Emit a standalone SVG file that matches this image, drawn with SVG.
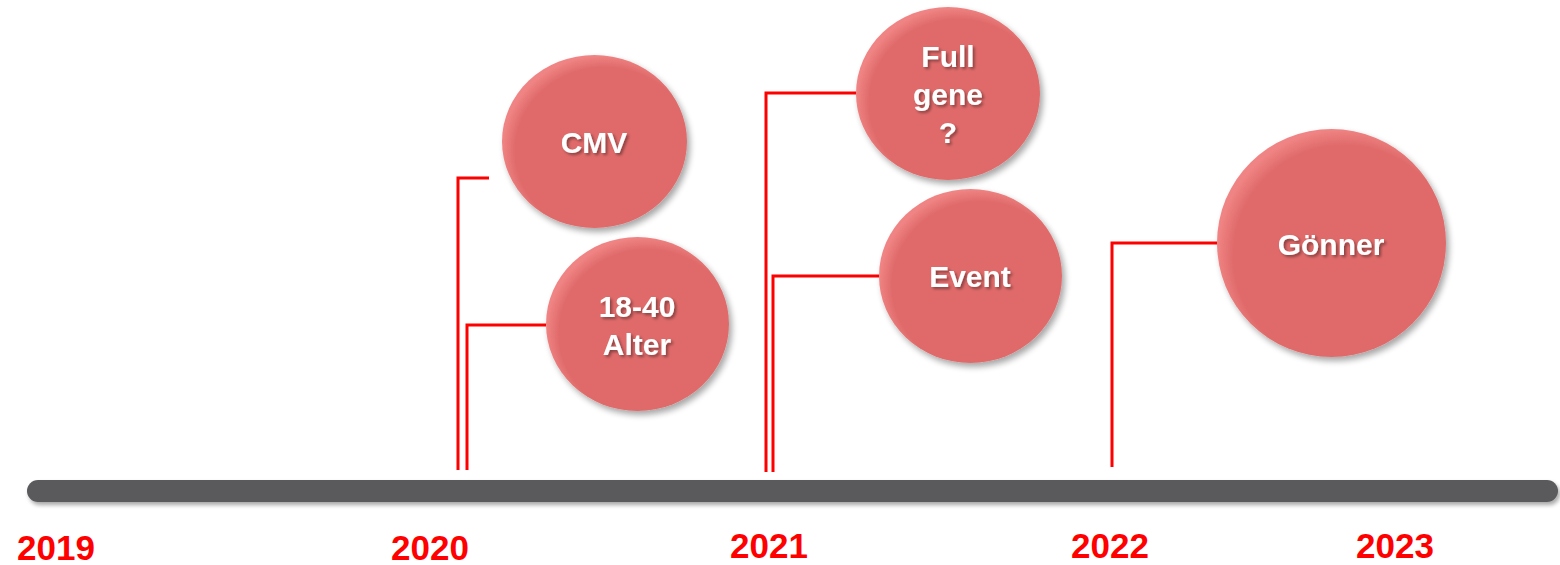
<svg xmlns="http://www.w3.org/2000/svg" width="1560" height="565" viewBox="0 0 1560 565">
<style>
.node ellipse{fill:url(#ball);filter:url(#sh);}
.lbl{font-family:"Liberation Sans",Arial,sans-serif;font-weight:bold;font-size:30px;fill:#ffffff;text-anchor:middle;filter:url(#tsh);}
.yr{font-family:"Liberation Sans",Arial,sans-serif;font-weight:bold;font-size:35px;fill:#ff0000;text-anchor:middle;}
.con path{fill:none;stroke:#ff0000;stroke-width:3;}
</style>
<defs>
<radialGradient id="ball" cx="0.55" cy="0.55" r="0.55" fx="0.6" fy="0.6">
<stop offset="0" stop-color="#e06a6a"/>
<stop offset="0.88" stop-color="#e06a6a"/>
<stop offset="1" stop-color="#f08484"/>
</radialGradient>
<filter id="sh" x="-20%" y="-20%" width="150%" height="150%">
<feGaussianBlur in="SourceAlpha" stdDeviation="3"/>
<feOffset dx="3" dy="4" result="b"/>
<feComponentTransfer><feFuncA type="linear" slope="0.35"/></feComponentTransfer>
<feMerge><feMergeNode/><feMergeNode in="SourceGraphic"/></feMerge>
</filter>
<filter id="tsh" x="-20%" y="-30%" width="150%" height="170%">
<feGaussianBlur in="SourceAlpha" stdDeviation="1.5"/>
<feOffset dx="2" dy="2"/>
<feComponentTransfer><feFuncA type="linear" slope="0.4"/></feComponentTransfer>
<feMerge><feMergeNode/><feMergeNode in="SourceGraphic"/></feMerge>
</filter>
<filter id="barsh" x="-5%" y="-50%" width="110%" height="250%">
<feGaussianBlur in="SourceAlpha" stdDeviation="2"/>
<feOffset dx="2" dy="3"/>
<feComponentTransfer><feFuncA type="linear" slope="0.35"/></feComponentTransfer>
<feMerge><feMergeNode/><feMergeNode in="SourceGraphic"/></feMerge>
</filter>
</defs>
<rect width="1560" height="565" fill="#ffffff"/>
<g id="timeline">
<rect x="27" y="480" width="1531" height="22" rx="11" ry="11" fill="#5a5a5b" filter="url(#barsh)"/>
</g>
<g id="years">
<text class="yr" x="56" y="560">2019</text>
<text class="yr" x="430" y="560">2020</text>
<text class="yr" x="769" y="558">2021</text>
<text class="yr" x="1110" y="558">2022</text>
<text class="yr" x="1395" y="558">2023</text>
</g>
<g id="connectors" class="con">
<path d="M458,470 V178 H489"/>
<path d="M467,470 V325 H546"/>
<path d="M766,472 V93 H856"/>
<path d="M773,472 V276 H879"/>
<path d="M1112,467 V243 H1217"/>
</g>
<g id="node-cmv" class="node">
<ellipse cx="594.5" cy="141.5" rx="92.5" ry="86.5"/>
<text class="lbl" x="594" y="153">CMV</text>
</g>
<g id="node-alter" class="node">
<ellipse cx="637.5" cy="324" rx="91.5" ry="87"/>
<text class="lbl" x="637" y="317">18-40</text>
<text class="lbl" x="637" y="355">Alter</text>
</g>
<g id="node-fullgene" class="node">
<ellipse cx="948" cy="93.5" rx="92" ry="86.5"/>
<text class="lbl" x="948" y="67">Full</text>
<text class="lbl" x="948" y="105">gene</text>
<text class="lbl" x="948" y="143">?</text>
</g>
<g id="node-event" class="node">
<ellipse cx="970.5" cy="276" rx="91.5" ry="87"/>
<text class="lbl" x="970" y="287">Event</text>
</g>
<g id="node-goenner" class="node">
<ellipse cx="1331.5" cy="243" rx="114.5" ry="114"/>
<text class="lbl" x="1331" y="255">Gönner</text>
</g>
</svg>
